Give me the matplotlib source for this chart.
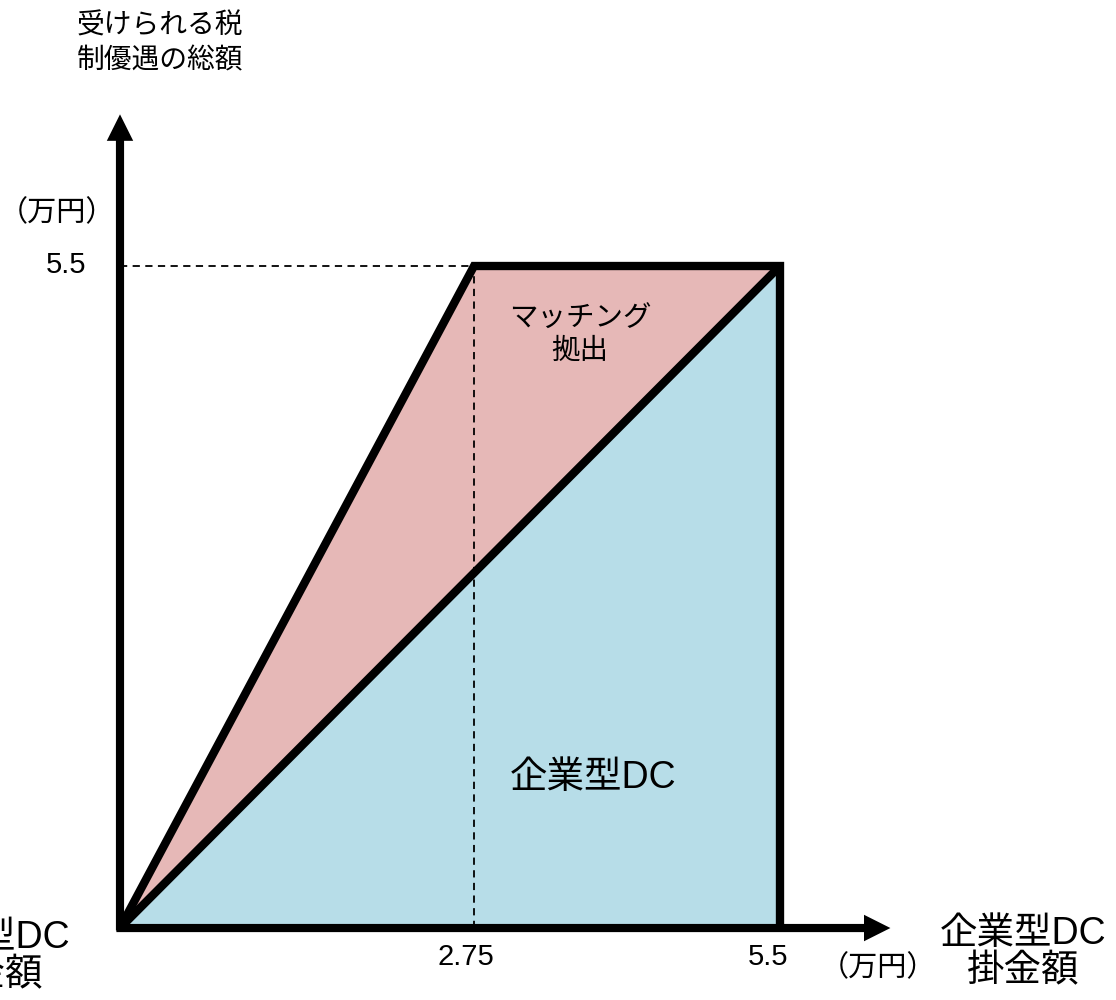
import matplotlib
matplotlib.use("Agg")
import matplotlib.pyplot as plt
import numpy as np

plt.rcParams['font.family'] = ['Liberation Sans', 'Noto Sans CJK JP', 'DejaVu Sans']

# Data
x_max = 5.5           # 企業型DC 掛金額 upper limit (万円)
x_half = 2.75         # point where matching reaches cap
y_max = 5.5           # 受けられる税制優遇の総額 cap (万円)

pink_x = [0, x_half, x_max]
pink_y = [0, y_max, y_max]
blue_x = [0, x_max, x_max]
blue_y = [0, x_max, 0]

x_ticks = [x_half, x_max]
x_tick_labels = ["2.75", "5.5"]
y_ticks = [y_max]
y_tick_labels = ["5.5"]

PINK = "#E6B8B7"
BLUE = "#B7DDE8"

W, H = 1116, 1000
fig = plt.figure(figsize=(W / 100, H / 100), dpi=100)
ax = fig.add_axes([0, 0, 1, 1])

# schematic (non-proportional) x axis, as in the original drawing
_src = np.array([-10.0, 0.2, x_half, x_max, 20.0])
_dst = np.array([-10.0, 0.2, 2.95, x_max, 20.0])
ax.set_xscale('function', functions=(lambda v: np.interp(v, _src, _dst),
                                     lambda v: np.interp(v, _dst, _src)))
ax.set_xlim(-1.0, 8.3)
ax.set_ylim(-0.598, 7.71)
ax.axis('off')


def px(x, y):
    return x / W, 1 - y / H


# fills
ax.fill(pink_x, pink_y, color=PINK, lw=0, zorder=1)
ax.fill(blue_x, blue_y, color=BLUE, lw=0, zorder=2)

# dashed guides
ax.plot([0, x_half], [y_max, y_max], ls=(0, (4, 3)), color='black', lw=1.3, zorder=3)
ax.plot([x_half, x_half], [0, y_max], ls=(0, (4, 3)), color='black', lw=1.3, zorder=3)

# thick outlines
LW = 6
ax.plot([0, x_half, x_max, x_max], [0, y_max, y_max, 0], color='black', lw=LW,
        solid_joinstyle='miter', solid_capstyle='butt', zorder=4)
ax.plot([0, x_max], [0, x_max], color='black', lw=LW, solid_capstyle='butt', zorder=4)

# axes arrows
ax.arrow(0.0, -0.02, 0, 6.78, width=0.068, head_width=0.22, head_length=0.22,
         length_includes_head=True, color='black', lw=0, zorder=5)
ax.arrow(-0.03, 0, 6.45, 0, width=0.068, head_width=0.22, head_length=0.22,
         length_includes_head=True, color='black', lw=0, zorder=5)

# tick labels
x_offsets = [(-5.8, -20.9), (-8.6, -20.9)]
for xt, lab, off in zip(x_ticks, x_tick_labels, x_offsets):
    ax.annotate(lab, xy=(xt, 0), xytext=off, textcoords='offset points',
                ha='center', va='center', fontsize=21, zorder=6)
for yt, lab in zip(y_ticks, y_tick_labels):
    ax.annotate(lab, xy=(0, yt), xytext=(-38.9, 1.0), textcoords='offset points',
                ha='center', va='center', fontsize=21, zorder=6)

# unit labels
fig.text(*px(57, 213), "（万円）", ha='center', va='center', fontsize=21)
fig.text(*px(878, 968), "（万円）", ha='center', va='center', fontsize=21)

# axis titles
fig.text(*px(160, 44), "受けられる税\n制優遇の総額", ha='center', va='center',
         fontsize=20, linespacing=1.4)
fig.text(*px(1023, 953), "企業型DC\n掛金額", ha='center', va='center',
         fontsize=27, linespacing=1.05)
fig.text(*px(-13, 957), "企業型DC\n掛金額", ha='center', va='center',
         fontsize=27, linespacing=1.05)

# region labels
fig.text(*px(580, 336), "マッチング\n拠出", ha='center', va='center',
         fontsize=20.5, linespacing=1.3, zorder=6)
fig.text(*px(593, 778), "企業型DC", ha='center', va='center', fontsize=27, zorder=6)

fig.savefig("out.png", dpi=100)
